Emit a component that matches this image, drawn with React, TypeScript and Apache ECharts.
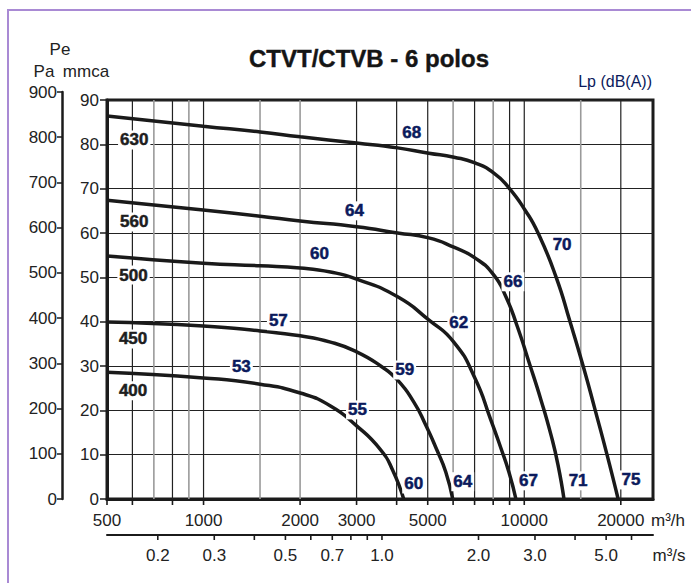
import React, { useEffect, useRef } from "react";
import * as echarts from "echarts";

// ---- data (Q in m3/h, P in mmca) ----
const curve400 = [[500, 28.6], [998, 27.3], [1501, 25.9], [2002, 23.9], [2488, 21.0], [3001, 16.5], [3566, 11.1], [3888, 6.5], [4207, 0]];
const curve450 = [[500, 39.9], [998, 39.0], [1501, 37.9], [2002, 36.8], [2488, 35.4], [3001, 33.2], [3566, 30.0], [4029, 26.8], [4521, 21.9], [4928, 16.7], [5337, 11.1], [5692, 6.1], [5984, 0]];
const curve500 = [[500, 54.8], [998, 53.2], [1501, 52.6], [2002, 52.1], [2488, 51.2], [3001, 49.6], [4029, 45.6], [5036, 40.4], [6029, 35.4], [7014, 27.3], [7869, 17.8], [8453, 11.5], [8955, 6.1], [9418, 0]];
const curve560 = [[500, 67.4], [998, 65.2], [1501, 63.8], [2002, 62.7], [3001, 61.4], [4029, 60.0], [5036, 58.9], [6029, 56.8], [7014, 54.4], [8040, 50.5], [8766, 45.6], [9484, 39.2], [10340, 30.9], [11280, 22.3], [12120, 14.4], [12740, 7.7], [13300, 0]];
const curve630 = [[500, 86.4], [998, 84.1], [1501, 82.8], [2002, 81.7], [3001, 80.3], [4030, 79.2], [5040, 78.0], [6040, 77.1], [7020, 75.8], [8040, 73.5], [8955, 70.2], [10050, 65.2], [11040, 60.0], [12560, 50.1], [13900, 39.9], [15260, 30.0], [16630, 20.1], [18130, 9.9], [19620, 0]];
const curves = [curve400, curve450, curve500, curve560, curve630];

const sizeLabels = [["630", 608, 81.0], ["560", 608, 62.5], ["500", 605, 50.5], ["450", 603, 36.1], ["400", 603, 24.4]];
const noiseLabels = [
  ["68", 4456, 82.6], ["64", 2957, 65.0], ["60", 2299, 55.3], ["57", 1711, 40.2], ["53", 1312, 30.0],
  ["70", 13120, 57.3], ["66", 9220, 49.0], ["62", 6250, 39.9], ["59", 4237, 29.1], ["55", 3020, 20.1],
  ["60", 4520, 3.4], ["64", 6430, 3.9], ["67", 10300, 4.1], ["71", 14720, 4.1], ["75", 21530, 4.3],
];

const gridBlack = [600, 800, 1000, 3000, 4000, 5000, 7000, 9000, 10000, 20000];
const gridGray = [700, 900, 1500, 2000, 6000, 8000, 15000];
const flowTicks = [500, 600, 800, 1000, 2000, 3000, 4000, 5000, 6000, 7000, 8000, 9000, 10000, 20000];
const flowLabels = [500, 1000, 2000, 3000, 5000, 10000, 20000];
const secTicks = [0.2, 0.3, 0.4, 0.5, 0.6, 0.7, 0.8, 0.9, 1.0, 2.0, 3.0, 4.0, 5.0, 6.0];
const secLabels = ["0.2", "0.3", "0.5", "0.7", "1.0", "2.0", "3.0", "5.0"];

const X_MIN = 500;
const X_MAX = 25200;
const FONT = '"Liberation Sans", Arial, sans-serif';
const NAVY = "#0b1a5c";
const INK = "#1b1b1b";

export default function App() {
  const ref = useRef<HTMLDivElement>(null);
  useEffect(() => {
    const chart = echarts.init(ref.current!, null, { renderer: "svg" });

    const vLine = (color: string, width: number) => (params: any, api: any) => {
      const v = api.value(0);
      const a = api.coord([v, 0]);
      const b = api.coord([v, 90]);
      return { type: "line", shape: { x1: a[0], y1: a[1], x2: b[0], y2: b[1] }, style: { stroke: color, lineWidth: width } };
    };
    const tick = (len: number) => (params: any, api: any) => {
      const p = api.coord([api.value(0), 0]);
      return { type: "line", shape: { x1: p[0], y1: p[1], x2: p[0], y2: p[1] + len }, style: { stroke: INK, lineWidth: 1.6 } };
    };
    const label = (dy: number, texts: string[]) => (params: any, api: any) => {
      const p = api.coord([api.value(0), 0]);
      return {
        type: "text",
        x: p[0],
        y: p[1] + dy,
        style: { text: texts[params.dataIndex], align: "center", verticalAlign: "middle", fontSize: 17, fontFamily: FONT, fill: "#222" },
      };
    };
    const markText = (color: string, texts: string[]) => (params: any, api: any) => {
      const p = api.coord([api.value(0), api.value(1)]);
      return {
        type: "text",
        x: p[0],
        y: p[1],
        style: {
          text: texts[params.dataIndex], align: "center", verticalAlign: "middle",
          fontSize: 17, fontWeight: "bold", fontFamily: FONT, fill: color,
          stroke: color, lineWidth: 0.5,
          backgroundColor: "#fff", padding: [1, 2],
        },
      };
    };

    const option: any = {
      animation: false,
      grid: [
        { left: 107, top: 100, width: 546, height: 399, show: true, borderColor: INK, borderWidth: 3, outerBoundsMode: "none" },
        { left: 107, top: 534, width: 546, height: 1, outerBoundsMode: "none" },
        { left: 62, top: 92, width: 1, height: 407, outerBoundsMode: "none" },
      ],
      xAxis: [
        { type: "log", gridIndex: 0, min: X_MIN, max: X_MAX, axisLine: { show: true, lineStyle: { color: INK, width: 3 } }, axisTick: { show: false }, axisLabel: { show: false }, splitLine: { show: false } },
        { type: "log", gridIndex: 1, min: X_MIN / 3600, max: X_MAX / 3600, axisLine: { show: true, lineStyle: { color: INK, width: 2 } }, axisTick: { show: false }, axisLabel: { show: false }, splitLine: { show: false } },
        { type: "value", gridIndex: 2, show: false },
      ],
      yAxis: [
        {
          type: "value", gridIndex: 0, min: 0, max: 90, interval: 10,
          axisLine: { show: true, lineStyle: { color: INK, width: 3 } },
          axisTick: { show: true, length: 7, lineStyle: { color: INK, width: 1.5 } },
          axisLabel: { fontSize: 17, color: "#222", margin: 8, fontFamily: FONT },
          splitLine: { show: true, lineStyle: { color: "#222", width: 1.2 } },
        },
        { type: "value", gridIndex: 1, min: 0, max: 1, show: false },
        {
          type: "value", gridIndex: 2, min: 0, max: 900, interval: 100,
          axisLine: { show: true, lineStyle: { color: INK, width: 2.5 } },
          axisTick: { show: true, length: 5, lineStyle: { color: INK, width: 1.5 } },
          axisLabel: { fontSize: 17, color: "#222", margin: 5, fontFamily: FONT },
          splitLine: { show: false },
        },
      ],
      graphic: [
        { type: "rect", shape: { x: 8, y: 10, width: 700, height: 600 }, style: { fill: "none", stroke: "#a98ad4", lineWidth: 2 }, silent: true },
        { type: "text", x: 369, y: 58, style: { text: "CTVT/CTVB - 6 polos", align: "center", verticalAlign: "middle", fontSize: 24, fontWeight: "bold", fontFamily: FONT, fill: "#151515", stroke: "#151515", lineWidth: 0.4 } },
        { type: "text", x: 60, y: 49, style: { text: "Pe", align: "center", verticalAlign: "middle", fontSize: 17, fontFamily: FONT, fill: "#222" } },
        { type: "text", x: 44, y: 71, style: { text: "Pa", align: "center", verticalAlign: "middle", fontSize: 17, fontFamily: FONT, fill: "#222" } },
        { type: "text", x: 86, y: 71, style: { text: "mmca", align: "center", verticalAlign: "middle", fontSize: 17, fontFamily: FONT, fill: "#222" } },
        { type: "text", x: 652, y: 81, style: { text: "Lp (dB(A))", align: "right", verticalAlign: "middle", fontSize: 16, fontFamily: FONT, fill: NAVY } },
        { type: "text", x: 668, y: 520, style: { text: "m³/h", align: "center", verticalAlign: "middle", fontSize: 17, fontFamily: FONT, fill: "#222" } },
        { type: "text", x: 669, y: 555, style: { text: "m³/s", align: "center", verticalAlign: "middle", fontSize: 17, fontFamily: FONT, fill: "#222" } },
      ],
      series: [
        { type: "custom", xAxisIndex: 0, yAxisIndex: 0, z: 1, silent: true, renderItem: vLine("#9a9a9a", 1.6), data: gridGray.map((v) => [v, 0]) },
        { type: "custom", xAxisIndex: 0, yAxisIndex: 0, z: 1, silent: true, renderItem: vLine("#222", 1.2), data: gridBlack.map((v) => [v, 0]) },
        { type: "custom", xAxisIndex: 0, yAxisIndex: 0, z: 2, silent: true, renderItem: tick(6), data: flowTicks.map((v) => [v, 0]) },
        { type: "custom", xAxisIndex: 0, yAxisIndex: 0, z: 2, silent: true, renderItem: label(21, flowLabels.map(String)), data: flowLabels.map((v) => [v, 0]) },
        { type: "custom", xAxisIndex: 1, yAxisIndex: 1, z: 2, silent: true, renderItem: tick(5), data: secTicks.map((v) => [v, 0]) },
        { type: "custom", xAxisIndex: 1, yAxisIndex: 1, z: 2, silent: true, renderItem: label(20, secLabels), data: secLabels.map((s) => [parseFloat(s), 0]) },
        ...curves.map((c) => ({
          type: "line", xAxisIndex: 0, yAxisIndex: 0, z: 3, silent: true, smooth: 0.55, symbol: "none",
          lineStyle: { color: "#1a1a1a", width: 3.5 }, data: c,
        })),
        {
          type: "custom", xAxisIndex: 0, yAxisIndex: 0, z: 5, silent: true,
          renderItem: markText("#1e1e1e", sizeLabels.map((d) => d[0] as string)),
          data: sizeLabels.map((d) => [d[1], d[2]]),
        },
        {
          type: "custom", xAxisIndex: 0, yAxisIndex: 0, z: 5, silent: true,
          renderItem: markText(NAVY, noiseLabels.map((d) => d[0] as string)),
          data: noiseLabels.map((d) => [d[1], d[2]]),
        },
      ],
    };
    chart.setOption(option);
    return () => chart.dispose();
  }, []);
  return <div ref={ref} style={{ position: "fixed", left: 0, top: 0, width: 691, height: 583, background: "#fff" }} />;
}
